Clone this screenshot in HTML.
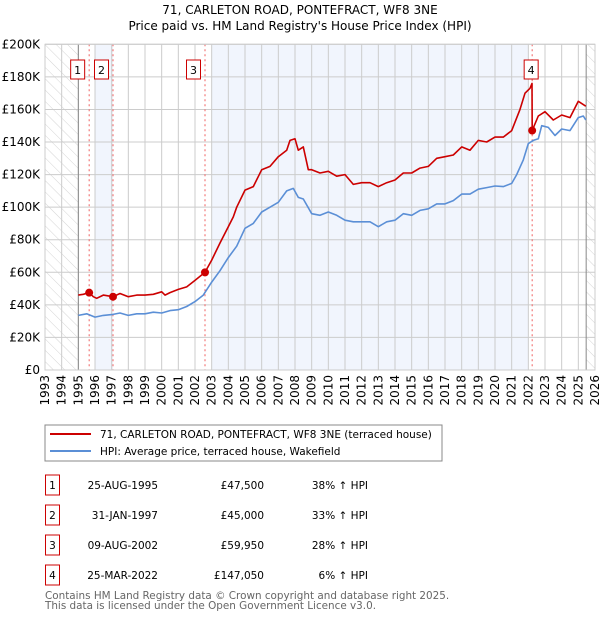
<!DOCTYPE html>
<html><head><meta charset="utf-8"><style>
body{margin:0;background:#fff;font-family:"DejaVu Sans","Liberation Sans",sans-serif;}
svg text{font-family:"DejaVu Sans","Liberation Sans",sans-serif;}
</style></head><body>
<svg id="c" width="600" height="620" xmlns="http://www.w3.org/2000/svg">
<defs><pattern id="hatch" width="8" height="8" patternUnits="userSpaceOnUse" patternTransform="rotate(-45)"><line x1="0" y1="0" x2="0" y2="8" stroke="#d4d4d4" stroke-width="1"/></pattern></defs>
<text x="300" y="14" text-anchor="middle" font-size="12">71, CARLETON ROAD, PONTEFRACT, WF8 3NE</text>
<text x="300" y="30" text-anchor="middle" font-size="12">Price paid vs. HM Land Registry's House Price Index (HPI)</text>
<g id="plot"></g>
<g>
<rect x="45" y="425" width="397" height="36" fill="#fff" stroke="#888"/>
<line x1="50" y1="434" x2="91" y2="434" stroke="#cc0000" stroke-width="2"/>
<text x="100" y="438" font-size="10.5">71, CARLETON ROAD, PONTEFRACT, WF8 3NE (terraced house)</text>
<line x1="50" y1="451" x2="91" y2="451" stroke="#5b8fd6" stroke-width="2"/>
<text x="100" y="455" font-size="10.5">HPI: Average price, terraced house, Wakefield</text>
</g>
<g id="tbl"></g>
<text x="45" y="599" font-size="10.4" fill="#666">Contains HM Land Registry data © Crown copyright and database right 2025.</text>
<text x="45" y="609" font-size="10.4" fill="#666">This data is licensed under the Open Government Licence v3.0.</text>
</svg>
<script>
const yTicks=[0,20,40,60,80,100,120,140,160,180,200];
const yTickLabels=["£0","£20K","£40K","£60K","£80K","£100K","£120K","£140K","£160K","£180K","£200K"];
const xYears=[1993,1994,1995,1996,1997,1998,1999,2000,2001,2002,2003,2004,2005,2006,2007,2008,2009,2010,2011,2012,2013,2014,2015,2016,2017,2018,2019,2020,2021,2022,2023,2024,2025,2026];
const saleNums=["1","2","3","4"];
const saleT=[1995.65,1997.08,2002.6,2022.23];
const saleV=[47.5,45,59.95,147.05];
const saleDates=["25-AUG-1995","31-JAN-1997","09-AUG-2002","25-MAR-2022"];
const salePrices=["£47,500","£45,000","£59,950","£147,050"];
const saleHpi=["38% ↑ HPI","33% ↑ HPI","28% ↑ HPI","6% ↑ HPI"];
const redT=[1995,1995.3,1995.65,1995.9,1996.1,1996.5,1997.08,1997.5,1998,1998.5,1999,1999.5,2000,2000.2,2000.5,2001,2001.5,2002,2002.6,2003,2003.5,2004,2004.3,2004.5,2005,2005.5,2006,2006.5,2007,2007.5,2007.7,2008,2008.2,2008.5,2008.8,2009,2009.5,2010,2010.5,2011,2011.5,2012,2012.5,2013,2013.5,2014,2014.5,2015,2015.5,2016,2016.5,2017,2017.5,2018,2018.5,2019,2019.5,2020,2020.5,2021,2021.5,2021.8,2022.1,2022.22,2022.23,2022.6,2023,2023.5,2024,2024.5,2025,2025.45];
const redV=[46,46.5,47.5,45,44,46,45,47,45,46,46,46.5,48,46,47.5,49.5,51,55,60,67.5,78,88,94,100,110.5,112.6,123,125,131,135,141,142,135,137,123,123,121,122,119,120,114,115,115,112.6,115,116.7,121,121,124,125,130,131,132,137,135,141,140,143,143,147,160,170,173,176,147.05,156,158.6,153.5,156.6,155,165,162];
const blueT=[1995,1995.5,1996,1996.5,1997,1997.5,1998,1998.5,1999,1999.5,2000,2000.5,2001,2001.5,2002,2002.5,2003,2003.5,2004,2004.5,2005,2005.5,2006,2006.5,2007,2007.5,2007.9,2008.2,2008.5,2009,2009.5,2010,2010.5,2011,2011.5,2012,2012.5,2013,2013.5,2014,2014.5,2015,2015.5,2016,2016.5,2017,2017.5,2018,2018.5,2019,2019.5,2020,2020.5,2021,2021.3,2021.7,2022,2022.3,2022.6,2022.8,2023.2,2023.6,2024,2024.5,2025,2025.3,2025.45];
const blueV=[33.5,34.5,32.5,33.5,34,35,33.5,34.5,34.5,35.5,35,36.5,37,39,42,46,54,61,69,76,87,90,97,100,103,110,111.5,106,105,96,95,97,95,92,91,91,91,88,91,92,96,95,98,99,102,102,104,108,108,111,112,113,112.6,114.6,120,129,139,141,142,150,149,144,148,147,155,156,153.5];
const X0=45,X1=595,Y0=370,Y1=44.3;
const xs=t=>X0+(t-1993)/(2026-1993)*(X1-X0);
const ys=v=>Y0-v/200*(Y0-Y1);
const NS="http://www.w3.org/2000/svg";
const g=document.getElementById('plot');
function mk(tag,attrs,parent){const e=document.createElementNS(NS,tag);for(const k in attrs)e.setAttribute(k,attrs[k]);(parent||g).appendChild(e);return e;}
let e;
e=mk('rect',{x:X0,y:Y1,width:X1-X0,height:Y0-Y1,fill:'#fff'});


e=mk('rect',{x:xs(1993),y:Y1,width:xs(1995)-xs(1993),height:Y0-Y1,fill:'url(#hatch)'});


e=mk('rect',{x:xs(2025.47),y:Y1,width:X1-xs(2025.47),height:Y0-Y1,fill:'url(#hatch)'});


e=mk('rect',{x:xs(1996),y:Y1,width:xs(saleT[1])-xs(1996),height:Y0-Y1,fill:'#eef3fc',opacity:0.8});


e=mk('rect',{x:xs(2003),y:Y1,width:xs(2022)-xs(2003),height:Y0-Y1,fill:'#eef3fc',opacity:0.8});


yTicks.forEach((v,i)=>{
 e=mk('line',{x1:X0,x2:X1,y1:ys(v),y2:ys(v),stroke:'#ccc','stroke-width':1});
 
 
 e=mk('text',{x:40,y:ys(v)+4,'text-anchor':'end','font-size':12});
 e.textContent=yTickLabels[i];
 
 
});
xYears.forEach(yr=>{
 e=mk('line',{x1:xs(yr),x2:xs(yr),y1:Y1,y2:Y0,stroke:'#ccc','stroke-width':1});
 
 
 e=mk('text',{x:xs(yr)+4,y:375,'text-anchor':'end','font-size':12,transform:`rotate(-90 ${xs(yr)+4} 375)`});
 e.textContent=yr;
 
 
});
e=mk('line',{x1:xs(1995),x2:xs(1995),y1:Y1,y2:Y0,stroke:'#888'});


e=mk('line',{x1:xs(2025.47),x2:xs(2025.47),y1:Y1,y2:Y0,stroke:'#888'});


saleT.forEach(t=>{
 e=mk('line',{x1:xs(t),x2:xs(t),y1:Y1,y2:Y0,stroke:'#f06060','stroke-dasharray':'2,3','stroke-width':1});
 
 
});
function pts(T,V){return T.map((t,i)=>xs(t).toFixed(1)+','+ys(V[i]).toFixed(1)).join(' ');}
e=mk('polyline',{points:pts(blueT,blueV),fill:'none',stroke:'#5b8fd6','stroke-width':1.6,'stroke-linejoin':'round'});


e=mk('polyline',{points:pts(redT,redV),fill:'none',stroke:'#cc0000','stroke-width':1.6,'stroke-linejoin':'round'});


saleT.forEach((t,i)=>{
 e=mk('circle',{cx:xs(t),cy:ys(saleV[i]),r:4,fill:'#cc0000'});
 
 
 const bx=i==3?xs(t)-8:xs(t)-18.5;
 e=mk('rect',{x:bx,y:60,width:14,height:19,fill:'#fff',stroke:'#cc0000'});
 
 
 e=mk('text',{x:bx+7,y:74,'text-anchor':'middle','font-size':11});
 e.textContent=saleNums[i];
 
 
});
e=mk('rect',{x:X0,y:Y1,width:X1-X0,height:Y0-Y1,fill:'none',stroke:'#ccc'});


const tb=document.getElementById('tbl');
saleNums.forEach((n,i)=>{
 const cy=483+i*30;
 e=mk('rect',{x:45.5,y:cy-8,width:14,height:20,fill:'#fff',stroke:'#cc0000'},tb);
 
 
 e=mk('text',{x:52.5,y:cy+6,'text-anchor':'middle','font-size':10.5},tb);
 e.textContent=n;
 
 
 e=mk('text',{x:158,y:cy+6,'text-anchor':'end','font-size':10.5},tb);
 e.textContent=saleDates[i];
 
 
 e=mk('text',{x:264,y:cy+6,'text-anchor':'end','font-size':10.5},tb);
 e.textContent=salePrices[i];
 
 
 e=mk('text',{x:368,y:cy+6,'text-anchor':'end','font-size':10.5},tb);
 e.textContent=saleHpi[i];
 
 
});
</script>
</body></html>
